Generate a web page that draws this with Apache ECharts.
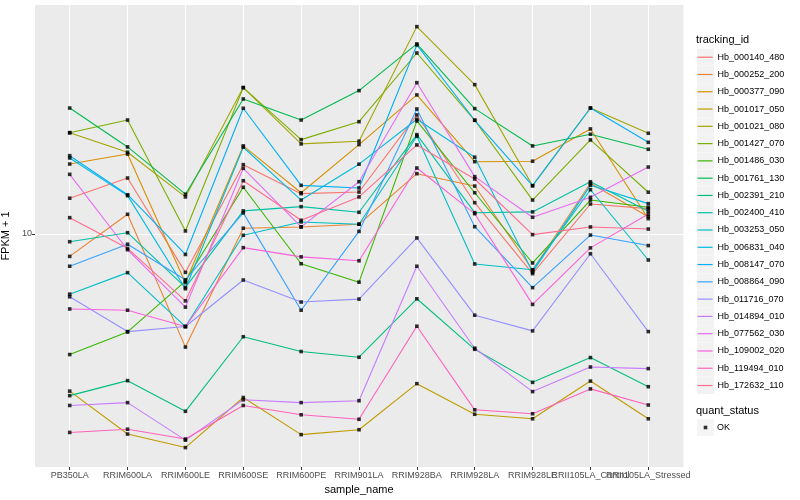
<!DOCTYPE html>
<html><head><meta charset="utf-8">
<script src="https://cdn.jsdelivr.net/npm/echarts@6/dist/echarts.min.js"></script>
<style>html,body{margin:0;padding:0;background:#fff}#chart{width:800px;height:500px}</style>
</head><body><div id="chart"></div>
<script>
const categories = ['PB350LA','RRIM600LA','RRIM600LE','RRIM600SE','RRIM600PE','RRIM901LA','RRIM928BA','RRIM928LA','RRIM928LE','RRII105LA_Control','RRII105LA_Stressed'];
const trackingIds = ['Hb_000140_480','Hb_000252_200','Hb_000377_090','Hb_001017_050','Hb_001021_080','Hb_001427_070','Hb_001486_030','Hb_001761_130','Hb_002391_210','Hb_002400_410','Hb_003253_050','Hb_006831_040','Hb_008147_070','Hb_008864_090','Hb_011716_070','Hb_014894_010','Hb_077562_030','Hb_109002_020','Hb_119494_010','Hb_172632_110'];

const hb_000140_480 = [11.79, 12.94, 8.38, 13.76, 12.04, 12.13, 17.30, 11.55, 8.33, 11.48, 11.24];
const hb_000252_200 = [9.02, 10.95, 5.94, 10.27, 10.33, 10.46, 13.20, 12.47, 8.47, 12.63, 10.83];
const hb_000377_090 = [13.80, 14.45, 7.99, 15.00, 12.09, 15.09, 18.97, 13.95, 13.98, 16.22, 10.73];
const hb_001017_050 = [4.85, 3.98, 3.74, 4.71, 3.97, 4.06, 5.02, 4.36, 4.27, 5.08, 4.27];
const hb_001021_080 = [15.94, 14.57, 11.86, 19.62, 15.14, 15.33, 25.98, 19.89, 12.49, 17.86, 15.90];
const hb_001427_070 = [15.94, 16.90, 10.14, 19.62, 15.44, 16.77, 23.01, 16.88, 11.69, 15.42, 12.12];
const hb_001486_030 = [5.74, 6.37, 8.05, 12.40, 8.72, 8.01, 16.83, 12.09, 8.75, 11.69, 11.31];
const hb_001761_130 = [17.86, 14.93, 12.01, 18.62, 16.90, 19.35, 23.99, 17.81, 15.00, 15.83, 14.77];
const hb_002391_210 = [4.75, 5.09, 4.42, 6.23, 5.82, 5.67, 7.42, 5.88, 5.05, 5.66, 4.95];
const hb_002400_410 = [9.65, 10.06, 7.82, 11.12, 11.34, 11.05, 15.80, 11.03, 11.07, 12.72, 11.10];
const hb_003253_050 = [7.58, 8.37, 6.53, 9.94, 10.57, 10.46, 15.68, 8.71, 8.48, 12.26, 8.87];
const hb_006831_040 = [14.19, 11.93, 7.77, 14.91, 11.69, 13.79, 16.96, 14.24, 8.39, 12.51, 11.50];
const hb_008147_070 = [14.34, 11.98, 9.10, 17.84, 12.51, 12.36, 23.88, 16.88, 12.49, 17.86, 15.25];
const hb_008864_090 = [8.62, 9.54, 8.10, 11.02, 7.04, 10.12, 17.78, 10.34, 7.81, 9.95, 9.48];
const hb_011716_070 = [7.49, 6.38, 6.53, 8.09, 7.31, 7.41, 9.82, 6.88, 6.40, 9.13, 6.38];
const hb_014894_010 = [4.54, 4.60, 3.87, 4.66, 4.60, 4.64, 8.62, 5.91, 4.84, 5.42, 5.38];
const hb_077562_030 = [13.16, 9.30, 7.14, 13.53, 10.33, 12.72, 20.07, 13.02, 10.80, 11.84, 13.61];
const hb_109002_020 = [7.08, 7.04, 6.53, 9.39, 9.00, 8.84, 13.55, 10.98, 7.23, 9.38, 10.96];
const hb_119494_010 = [4.01, 4.07, 3.89, 4.54, 4.35, 4.26, 6.54, 4.45, 4.37, 4.90, 4.55];
const hb_172632_110 = [10.78, 9.36, 7.35, 12.78, 10.65, 11.86, 15.07, 12.88, 9.97, 10.33, 10.23];

const seriesValues = [hb_000140_480, hb_000252_200, hb_000377_090, hb_001017_050, hb_001021_080, hb_001427_070, hb_001486_030, hb_001761_130, hb_002391_210, hb_002400_410, hb_003253_050, hb_006831_040, hb_008147_070, hb_008864_090, hb_011716_070, hb_014894_010, hb_077562_030, hb_109002_020, hb_119494_010, hb_172632_110];
const lineColors = ['#F8766D','#EA8331','#D89000','#C09B00','#A3A500','#7CAE00','#39B600','#00BB4E','#00BF7D','#00C1A3','#00BFC4','#00BAE0','#00B0F6','#35A2FF','#9590FF','#C77CFF','#E76BF3','#FA62DB','#FF62BC','#FF6C91'];
const yTickValues = [10];
const quantStatus = ['OK'];

const FONT = '"Liberation Sans", Arial, Helvetica, sans-serif';
const Y_MIN = 3.42, Y_MAX = 28.7;

const lineSeries = trackingIds.map((id, k) => ({
  name: id,
  type: 'line',
  xAxisIndex: 1, yAxisIndex: 1,
  data: seriesValues[k].map((v, i) => [categories[i], v]),
  symbol: 'none',
  lineStyle: { width: 1.1, color: lineColors[k] },
  itemStyle: { color: lineColors[k] },
  z: 2,
  silent: true
}));
const pointData = [];
seriesValues.forEach(arr => arr.forEach((v, i) => pointData.push([categories[i], v])));
const pointSeries = {
  name: quantStatus[0], type: 'scatter', xAxisIndex: 1, yAxisIndex: 1, data: pointData,
  symbol: 'rect', symbolSize: 3.6, itemStyle: { color: '#000' }, z: 3, silent: true
};

const legendBase = {
  orient: 'vertical', selectedMode: false, padding: 0,
  itemWidth: 17, itemHeight: 17, itemGap: 0.28,
  textStyle: { fontFamily: FONT, fontSize: 9, color: '#000' }
};
const hiddenText = { fontFamily: FONT, fontSize: 9, color: 'rgba(0,0,0,0)' };

const chart = echarts.init(document.getElementById('chart'));
chart.setOption({
  animation: false,
  backgroundColor: '#fff',
  textStyle: { fontFamily: FONT },
  title: [
    { text: 'tracking_id', left: 696, top: 34, padding: 0, textStyle: { fontFamily: FONT, fontSize: 11, fontWeight: 'normal', color: '#000' } },
    { text: 'quant_status', left: 696, top: 405, padding: 0, textStyle: { fontFamily: FONT, fontSize: 11, fontWeight: 'normal', color: '#000' } }
  ],
  legend: [
    Object.assign({}, legendBase, {
      left: 697, top: 48.7, textStyle: hiddenText,
      data: trackingIds.map(n => ({ name: n, icon: 'rect', itemStyle: { color: '#F2F2F2', borderWidth: 0, opacity: 1 } }))
    }),
    Object.assign({}, legendBase, {
      left: 697, top: 50.4, itemGap: 3.68, itemWidth: 15,
      data: trackingIds.slice(),
      itemStyle: { opacity: 0 },
      lineStyle: { width: 1.2 }
    }),
    Object.assign({}, legendBase, {
      left: 697, top: 419, textStyle: hiddenText,
      data: quantStatus.map(n => ({ name: n, icon: 'rect', itemStyle: { color: '#F2F2F2', borderWidth: 0 } }))
    }),
    Object.assign({}, legendBase, {
      left: 697, top: 419, itemWidth: 15,
      data: quantStatus.map(n => ({ name: n, icon: 'rect', itemStyle: { color: 'rgba(0,0,0,0)', borderWidth: 0 } }))
    }),
    Object.assign({}, legendBase, {
      left: 703.7, top: 425.7, itemWidth: 3.6, itemHeight: 3.6, textStyle: { fontSize: 1, color: 'rgba(0,0,0,0)' },
      data: quantStatus.map(n => ({ name: n, icon: 'rect', itemStyle: { color: '#000', borderWidth: 0 } }))
    })
  ],
  grid: [
    { left: 35, right: 116.6, top: 5, bottom: 33, show: true, backgroundColor: '#EBEBEB', borderWidth: 0, containLabel: false, outerBoundsMode: 'none' },
    { left: 69.7, right: 151.7, top: 5, bottom: 33, show: false, containLabel: false, outerBoundsMode: 'none' }
  ],
  xAxis: [
    { gridIndex: 0, type: 'value', min: 0, max: 1, show: false },
    {
      gridIndex: 1, type: 'category', data: categories, boundaryGap: false,
      axisLine: { show: false },
      axisTick: { show: true, interval: 0, length: 3, lineStyle: { color: '#333', width: 1 } },
      axisLabel: { interval: 0, fontFamily: FONT, fontSize: 9, color: '#4D4D4D', margin: 4 },
      splitLine: { show: true, interval: 0, lineStyle: { color: '#fff', width: 1.1 } },
      name: 'sample_name', nameLocation: 'middle', nameGap: 16,
      nameTextStyle: { fontFamily: FONT, fontSize: 11, color: '#000' }
    }
  ],
  yAxis: [
    {
      gridIndex: 0, type: 'log', logBase: 10, min: Y_MIN, max: Y_MAX,
      axisLine: { show: false },
      axisTick: { show: true, customValues: yTickValues, length: 3, lineStyle: { color: '#333', width: 1 } },
      axisLabel: { customValues: yTickValues, formatter: v => String(Math.round(v)), fontFamily: FONT, fontSize: 9, color: '#4D4D4D', margin: 3 },
      splitLine: { show: true, lineStyle: { color: '#fff', width: 1.1 } },
      minorSplitLine: { show: false },
      name: 'FPKM + 1', nameLocation: 'middle', nameGap: 18,
      nameTextStyle: { fontFamily: FONT, fontSize: 11, color: '#000' }
    },
    { gridIndex: 1, type: 'log', logBase: 10, min: Y_MIN, max: Y_MAX, show: false }
  ],
  series: lineSeries.concat([pointSeries])
});
</script>
</body></html>
